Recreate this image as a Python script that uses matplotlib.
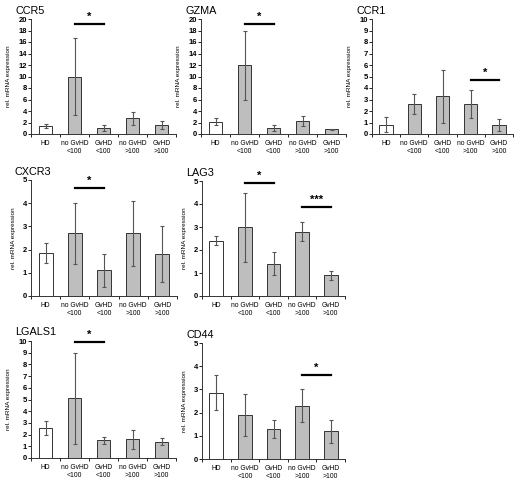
import matplotlib.pyplot as plt

plt.rcParams['font.family'] = ['Liberation Sans', 'DejaVu Sans']

groups = ['HD', 'no GvHD\n<100', 'GvHD\n<100', 'no GvHD\n>100', 'GvHD\n>100']

ccr5_mean = [1.4, 10.0, 1.1, 2.7, 1.5]
ccr5_err = [0.4, 6.7, 0.5, 1.2, 0.7]
gzma_mean = [2.1, 12.0, 1.0, 2.3, 0.85]
gzma_err = [0.6, 6.0, 0.5, 0.9, 0.1]
ccr1_mean = [0.8, 2.6, 3.3, 2.6, 0.8]
ccr1_err = [0.65, 0.9, 2.3, 1.2, 0.5]
cxcr3_mean = [1.85, 2.7, 1.1, 2.7, 1.8]
cxcr3_err = [0.42, 1.3, 0.7, 1.4, 1.2]
lag3_mean = [2.4, 3.0, 1.4, 2.8, 0.9]
lag3_err = [0.2, 1.5, 0.5, 0.4, 0.2]
lgals1_mean = [2.6, 5.1, 1.5, 1.6, 1.4]
lgals1_err = [0.6, 3.9, 0.3, 0.8, 0.3]
cd44_mean = [2.85, 1.9, 1.3, 2.3, 1.2]
cd44_err = [0.75, 0.9, 0.4, 0.7, 0.5]

# (title, means, errors, ymax, ystep, significance marks)
panels = [
    ('CCR5', ccr5_mean, ccr5_err, 20, 2, [(1, 2, 19.1, '*')]),
    ('GZMA', gzma_mean, gzma_err, 20, 2, [(1, 2, 19.1, '*')]),
    ('CCR1', ccr1_mean, ccr1_err, 10, 1, [(3, 4, 4.7, '*')]),
    ('CXCR3', cxcr3_mean, cxcr3_err, 5, 1, [(1, 2, 4.65, '*')]),
    ('LAG3', lag3_mean, lag3_err, 5, 1, [(1, 2, 4.9, '*'), (3, 4, 3.87, '***')]),
    ('LGALS1', lgals1_mean, lgals1_err, 10, 1, [(1, 2, 9.9, '*')]),
    ('CD44', cd44_mean, cd44_err, 5, 1, [(3, 4, 3.62, '*')]),
]

# axes boxes in pixels: left, top, right, bottom
boxes = [
    (31, 19, 176, 134), (201, 19, 346, 134), (372, 19, 513, 134),
    (31, 180, 177, 296), (202, 181, 345, 296),
    (31, 341, 176, 458), (202, 343, 345, 459),
]

W, H = 520, 480
fig = plt.figure(figsize=(W / 100, H / 100), dpi=100)

for (title, means, errs, ymax, ystep, sigs), (l, t, r, b) in zip(panels, boxes):
    ax = fig.add_axes([l / W, 1 - b / H, (r - l) / W, (b - t) / H])
    x = range(len(groups))
    colors = ['white'] + ['#bebebe'] * 4
    ax.bar(x, means, width=0.48, color=colors, edgecolor='#333333', linewidth=0.7,
           yerr=errs, error_kw=dict(ecolor='#555555', elinewidth=0.8, capsize=1.5, capthick=0.8))
    ax.set_xlim(-0.5, 4.5)
    ax.set_ylim(0, ymax)
    yt = list(range(0, ymax + 1, ystep))
    ax.set_yticks(yt, [str(v) for v in yt], fontweight='bold', fontsize=5.5)
    ax.tick_params(axis='y', length=2, width=0.6, pad=1)
    ax.set_xticks([i + 0.5 for i in range(-1, 5)], minor=True)
    ax.set_xticks(list(x))
    ax.set_xticklabels(groups, fontsize=4.9, linespacing=1.3)
    ax.tick_params(axis='x', which='major', length=0, pad=4)
    ax.tick_params(axis='x', which='minor', length=2, width=0.6)
    for s in ['top', 'right']:
        ax.spines[s].set_visible(False)
    for s in ['left', 'bottom']:
        ax.spines[s].set_linewidth(0.7)
        ax.spines[s].set_color('#333333')
    ax.set_ylabel('rel. mRNA expression', fontsize=4.6, labelpad=5)
    ax.text(-0.11, 1.03, title, transform=ax.transAxes, fontsize=7.8, ha='left', va='bottom')
    for x1, x2, y, lab in sigs:
        ax.plot([x1, x2], [y, y], color='black', linewidth=1.6, clip_on=False)
        ax.annotate(lab, (0.5 * (x1 + x2), y), xytext=(0, 1.5), textcoords='offset points',
                    ha='center', va='bottom', fontsize=8, fontweight='bold', annotation_clip=False)

fig.savefig('out.png', dpi=100)
